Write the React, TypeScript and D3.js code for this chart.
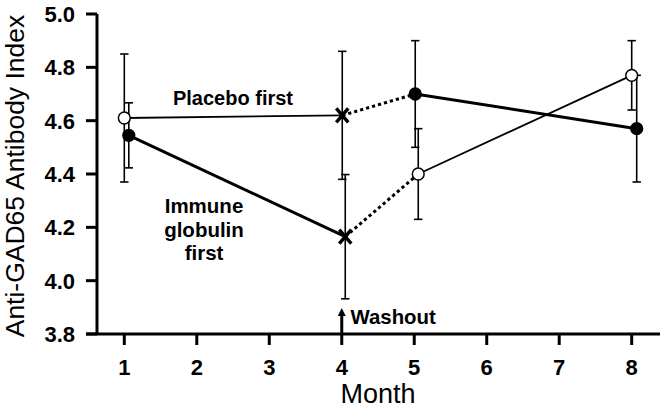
import React from "react";
import * as d3 from "d3";

// ---- data ----
const months = [1, 4, 5, 8];
const yTicks = [3.8, 4.0, 4.2, 4.4, 4.6, 4.8, 5.0];
const xTicks = [1, 2, 3, 4, 5, 6, 7, 8];

// Placebo-first group
const placeboFirstValues = [4.61, 4.62, 4.70, 4.57];
const placeboFirstErrors = [0.24, 0.24, 0.2, 0.2];
const placeboFirstMarkers = ["open", "x", "filled", "filled"];
const placeboFirstSegments = ["thin", "dotted", "thick"];

// Immune-globulin-first group
const immuneFirstValues = [4.545, 4.165, 4.4, 4.77];
const immuneFirstErrors = [0.122, 0.233, 0.17, 0.13];
const immuneFirstMarkers = ["filled", "x", "open", "open"];
const immuneFirstSegments = ["thick", "dotted", "thin"];

// small horizontal dodge (px) so overlapping bars are visible
const placeboFirstDodge = [0, 0.5, 1, 5];
const immuneFirstDodge = [4.5, 3.5, 4, 0];

const FONT = "'Liberation Sans', Arial, Helvetica, sans-serif";

const W = 660;
const H = 412;

const x = d3.scaleLinear().domain([1, 8]).range([124.3, 631.7]);
const y = d3.scaleLinear().domain([3.8, 5.0]).range([334, 14]);

const segStyle: Record<string, { w: number; dash?: string }> = {
  thin: { w: 1.8 },
  thick: { w: 3 },
  dotted: { w: 3, dash: "3.2 3" },
};

type Pt = { cx: number; cy: number; v: number; e: number; m: string };

function buildGroup(values: number[], errors: number[], markers: string[], dodge: number[]): Pt[] {
  return months.map((mo, i) => ({
    cx: x(mo) + dodge[i],
    cy: y(values[i]),
    v: values[i],
    e: errors[i],
    m: markers[i],
  }));
}

const groups = [
  { pts: buildGroup(placeboFirstValues, placeboFirstErrors, placeboFirstMarkers, placeboFirstDodge), segs: placeboFirstSegments },
  { pts: buildGroup(immuneFirstValues, immuneFirstErrors, immuneFirstMarkers, immuneFirstDodge), segs: immuneFirstSegments },
];

const line = d3
  .line<Pt>()
  .x((d) => d.cx)
  .y((d) => d.cy);

function Marker({ p }: { p: Pt }) {
  if (p.m === "x") {
    const s = 6;
    return (
      <path
        d={`M${p.cx - s},${p.cy - s - 1}L${p.cx + s},${p.cy + s + 1}M${p.cx - s},${p.cy + s + 1}L${p.cx + s},${p.cy - s - 1}`}
        stroke="#000"
        strokeWidth={3.4}
        fill="none"
      />
    );
  }
  return (
    <circle
      cx={p.cx}
      cy={p.cy}
      r={5.9}
      fill={p.m === "open" ? "#fff" : "#000"}
      stroke="#000"
      strokeWidth={1.5}
    />
  );
}

export default function App() {
  const axisY = y(3.8);
  const axisX = 97;
  const washX = x(4);
  return (
    <svg
      width={W}
      height={H}
      viewBox={`0 0 ${W} ${H}`}
      style={{ position: "absolute", left: 0, top: 0, background: "#fff" }}
    >
      <rect x={0} y={0} width={W} height={H} fill="#fff" />

      {/* y axis */}
      <line x1={axisX} x2={axisX} y1={y(5.0)} y2={axisY} stroke="#000" strokeWidth={3} />
      {yTicks.map((t) => (
        <g key={t}>
          <line x1={86} x2={axisX} y1={y(t)} y2={y(t)} stroke="#000" strokeWidth={3} />
          <text
            x={75}
            y={y(t)}
            dy="0.36em"
            textAnchor="end"
            fontFamily={FONT}
            fontWeight="bold"
            fontSize={22}
          >
            {t.toFixed(1)}
          </text>
        </g>
      ))}

      {/* x axis */}
      <line x1={86} x2={W} y1={axisY} y2={axisY} stroke="#000" strokeWidth={3} />
      {xTicks.map((t) => (
        <g key={t}>
          <line x1={x(t)} x2={x(t)} y1={axisY} y2={axisY + 11} stroke="#000" strokeWidth={3} />
          <text x={x(t)} y={375} textAnchor="middle" fontFamily={FONT} fontWeight="bold" fontSize={22}>
            {t}
          </text>
        </g>
      ))}

      {/* axis titles */}
      <text
        transform={`translate(24,176) rotate(-90)`}
        textAnchor="middle"
        fontFamily={FONT}
        fontSize={26.5}
      >
        Anti-GAD65 Antibody Index
      </text>
      <text x={378} y={403} textAnchor="middle" fontFamily={FONT} fontSize={27}>
        Month
      </text>

      {/* error bars */}
      {groups.map((g, gi) =>
        g.pts.map((p, i) => {
          const top = y(p.v + p.e);
          const bot = y(p.v - p.e);
          return (
            <g key={`e${gi}${i}`} stroke="#000" strokeWidth={1.6}>
              <line x1={p.cx} x2={p.cx} y1={top} y2={bot} />
              <line x1={p.cx - 4.2} x2={p.cx + 4.2} y1={top} y2={top} />
              <line x1={p.cx - 4.2} x2={p.cx + 4.2} y1={bot} y2={bot} />
            </g>
          );
        })
      )}

      {/* connecting lines */}
      {groups.map((g, gi) =>
        g.segs.map((s, i) => (
          <path
            key={`s${gi}${i}`}
            d={line([g.pts[i], g.pts[i + 1]]) || ""}
            fill="none"
            stroke="#000"
            strokeWidth={segStyle[s].w}
            strokeDasharray={segStyle[s].dash}
          />
        ))
      )}

      {/* markers */}
      {groups.map((g, gi) => g.pts.map((p, i) => <Marker key={`m${gi}${i}`} p={p} />))}

      {/* annotations */}
      <text x={233} y={105} textAnchor="middle" fontFamily={FONT} fontWeight="bold" fontSize={20}>
        Placebo first
      </text>
      <text textAnchor="middle" fontFamily={FONT} fontWeight="bold" fontSize={20.5}>
        <tspan x={204} y={213}>Immune</tspan>
        <tspan x={204} y={237}>globulin</tspan>
        <tspan x={204} y={260}>first</tspan>
      </text>

      {/* washout arrow */}
      <line x1={washX} x2={washX} y1={axisY} y2={314} stroke="#000" strokeWidth={3} />
      <path d={`M${washX},${308}L${washX - 4},${316}L${washX + 4},${316}Z`} fill="#000" />
      <text x={350.5} y={323.5} fontFamily={FONT} fontWeight="bold" fontSize={20.4}>
        Washout
      </text>
    </svg>
  );
}
